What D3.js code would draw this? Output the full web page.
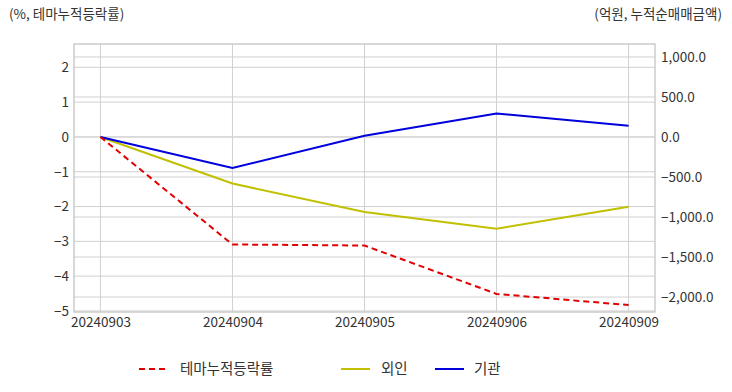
<!DOCTYPE html>
<html><head><meta charset="utf-8">
<script src="https://cdn.jsdelivr.net/npm/d3@7"></script>
<style>body{margin:0;background:#fff;}text{font-family:"Noto Sans CJK KR","Noto Sans",sans-serif;}</style>
</head><body><svg id="c" width="732" height="392"></svg>
<script>
const categories = ["20240903","20240904","20240905","20240906","20240909"];
const themeReturn = [0, -3.09, -3.12, -4.51, -4.83];
const foreign = [0, -582, -937, -1147, -871];
const institution = [0, -387, 16, 294, 140];
const leftTicks = [-5,-4,-3,-2,-1,0,1,2];
const rightTicks = [-2000,-1500,-1000,-500,0,500,1000];
const seriesNames = ["테마누적등락률","외인","기관"];
const leftTitle = "(%, 테마누적등락률)";
const rightTitle = "(억원, 누적순매매금액)";

const svg = d3.select("#c");
const L=74,R=655,T=44,B=312;
const x = d3.scalePoint().domain(categories).range([L,R]).padding(0.2);
const yL = d3.scaleLinear().domain([-5.03,2.67]).range([B,T]);
const yR = d3.scaleLinear().domain([-2187,1162]).range([B,T]);
const grid="#d0d0d0";
const FS=13.5;

// gridlines
svg.append("g").selectAll("line").data(leftTicks).join("line")
  .attr("x1",L).attr("x2",R).attr("y1",d=>yL(d)).attr("y2",d=>yL(d)).attr("stroke",grid);
svg.append("g").selectAll("line").data(rightTicks).join("line")
  .attr("x1",L).attr("x2",R).attr("y1",d=>yR(d)).attr("y2",d=>yR(d)).attr("stroke",grid);
svg.append("g").selectAll("line").data(categories).join("line")
  .attr("x1",d=>x(d)).attr("x2",d=>x(d)).attr("y1",T).attr("y2",B).attr("stroke",grid);
svg.append("rect").attr("x",L).attr("y",T).attr("width",R-L).attr("height",B-T)
  .attr("fill","none").attr("stroke","#cccccc").attr("stroke-width",1.5);

// axes
const fmtR = d3.format(",.1f");
const axL = svg.append("g").attr("transform",`translate(${L},0)`)
  .call(d3.axisLeft(yL).tickValues(leftTicks).tickSize(0).tickPadding(5).tickFormat(d3.format("d")));
const axR = svg.append("g").attr("transform",`translate(${R},0)`)
  .call(d3.axisRight(yR).tickValues(rightTicks).tickSize(0).tickPadding(6).tickFormat(fmtR));
const axX = svg.append("g").attr("transform",`translate(0,${B})`)
  .call(d3.axisBottom(x).tickSize(0).tickPadding(5));
[axL,axR,axX].forEach(a=>{a.select(".domain").remove();
  a.selectAll("text").attr("font-size",FS).attr("fill","#333")
   .attr("font-family","'Noto Sans CJK KR','Noto Sans',sans-serif");});

// lines
const lineL = d3.line().x((d,i)=>x(categories[i])).y(d=>yL(d));
const lineR = d3.line().x((d,i)=>x(categories[i])).y(d=>yR(d));
svg.append("path").datum(foreign).attr("d",lineR).attr("fill","none").attr("stroke","#c0c000").attr("stroke-width",2);
svg.append("path").datum(institution).attr("d",lineR).attr("fill","none").attr("stroke","#0000dd").attr("stroke-width",2);
svg.append("path").datum(themeReturn).attr("d",lineL).attr("fill","none").attr("stroke","#e00000").attr("stroke-width",2).attr("stroke-dasharray","6,4");

// titles
svg.append("text").attr("x",9).attr("y",19).attr("font-size",FS).attr("fill","#333").text(leftTitle);
svg.append("text").attr("x",722).attr("y",19).attr("text-anchor","end").attr("font-size",FS).attr("fill","#333").text(rightTitle);

// legend
const leg=[{n:seriesNames[0],c:"#e00000",dash:"6,4",x:139,tx:180},{n:seriesNames[1],c:"#c0c000",dash:null,x:341,tx:381},{n:seriesNames[2],c:"#0000dd",dash:null,x:435,tx:474}];
const lg=svg.append("g");
leg.forEach(d=>{
  lg.append("line").attr("x1",d.x).attr("x2",d.x+29).attr("y1",369).attr("y2",369)
    .attr("stroke",d.c).attr("stroke-width",2).attr("stroke-dasharray",d.dash);
  lg.append("text").attr("x",d.tx).attr("y",374).attr("font-size",14.5).attr("fill","#333").text(d.n);
});
</script></body></html>
